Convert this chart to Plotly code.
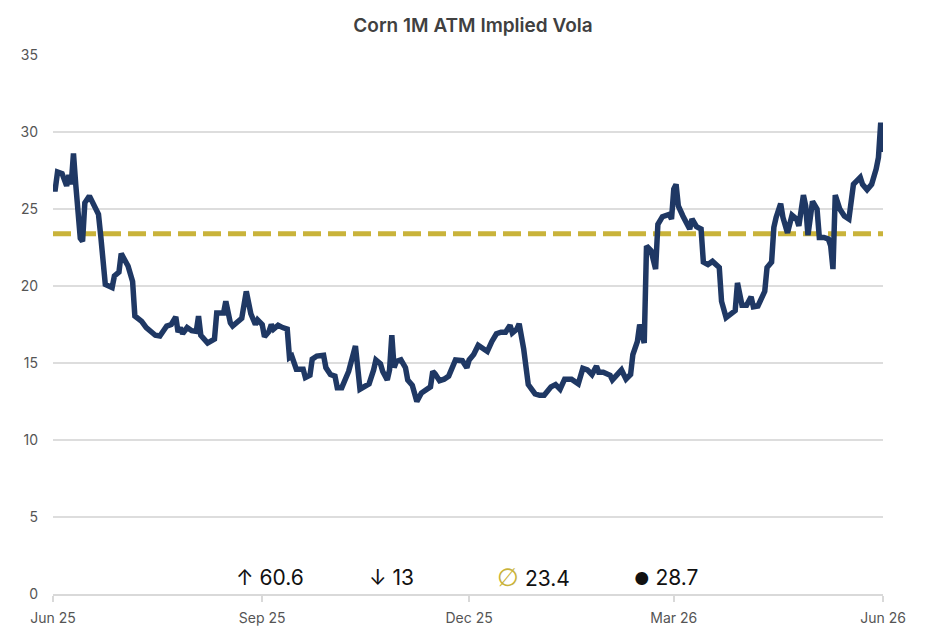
import plotly.graph_objects as go

# Corn front-month ATM implied volatility (%), daily observations
dates = [
    "2025-06-01", "2025-06-02", "2025-06-03", "2025-06-05", "2025-06-07", "2025-06-08",
    "2025-06-09", "2025-06-10", "2025-06-11", "2025-06-13", "2025-06-14", "2025-06-15",
    "2025-06-17", "2025-06-19", "2025-06-21", "2025-06-22", "2025-06-24", "2025-06-27",
    "2025-06-28", "2025-06-30", "2025-07-01", "2025-07-04", "2025-07-06", "2025-07-07",
    "2025-07-10", "2025-07-12", "2025-07-14", "2025-07-16", "2025-07-18", "2025-07-21",
    "2025-07-23", "2025-07-25", "2025-07-26", "2025-07-27", "2025-07-28", "2025-07-30",
    "2025-08-01", "2025-08-03", "2025-08-04", "2025-08-05", "2025-08-08", "2025-08-10",
    "2025-08-11", "2025-08-12", "2025-08-15", "2025-08-16", "2025-08-18", "2025-08-19",
    "2025-08-23", "2025-08-25", "2025-08-27", "2025-08-29", "2025-08-30", "2025-09-01",
    "2025-09-02", "2025-09-04", "2025-09-05", "2025-09-06", "2025-09-08", "2025-09-10",
    "2025-09-12", "2025-09-13", "2025-09-14", "2025-09-16", "2025-09-18", "2025-09-19",
    "2025-09-20", "2025-09-22", "2025-09-23", "2025-09-25", "2025-09-28", "2025-09-29",
    "2025-10-01", "2025-10-03", "2025-10-04", "2025-10-06", "2025-10-09", "2025-10-10",
    "2025-10-12", "2025-10-14", "2025-10-16", "2025-10-18", "2025-10-20", "2025-10-21",
    "2025-10-23", "2025-10-24", "2025-10-26", "2025-10-27", "2025-10-28", "2025-10-29",
    "2025-10-30", "2025-11-01", "2025-11-03", "2025-11-04", "2025-11-06", "2025-11-07",
    "2025-11-08", "2025-11-10", "2025-11-12", "2025-11-14", "2025-11-15", "2025-11-16",
    "2025-11-18", "2025-11-20", "2025-11-22", "2025-11-23", "2025-11-25", "2025-11-28",
    "2025-11-30", "2025-12-01", "2025-12-03", "2025-12-05", "2025-12-07", "2025-12-09",
    "2025-12-11", "2025-12-13", "2025-12-15", "2025-12-17", "2025-12-19", "2025-12-20",
    "2025-12-22", "2025-12-23", "2025-12-25", "2025-12-27", "2025-12-30", "2026-01-01",
    "2026-01-03", "2026-01-06", "2026-01-08", "2026-01-10", "2026-01-12", "2026-01-15",
    "2026-01-18", "2026-01-20", "2026-01-22", "2026-01-24", "2026-01-26", "2026-01-27",
    "2026-01-29", "2026-02-01", "2026-02-02", "2026-02-05", "2026-02-06", "2026-02-08",
    "2026-02-10", "2026-02-11", "2026-02-13", "2026-02-14", "2026-02-16", "2026-02-17",
    "2026-02-19", "2026-02-21", "2026-02-22", "2026-02-24", "2026-02-27", "2026-02-28",
    "2026-03-01", "2026-03-02", "2026-03-03", "2026-03-05", "2026-03-08", "2026-03-09",
    "2026-03-11", "2026-03-13", "2026-03-14", "2026-03-16", "2026-03-18", "2026-03-21",
    "2026-03-22", "2026-03-24", "2026-03-27", "2026-03-28", "2026-03-29", "2026-03-31",
    "2026-04-02", "2026-04-04", "2026-04-05", "2026-04-07", "2026-04-10", "2026-04-11",
    "2026-04-13", "2026-04-14", "2026-04-15", "2026-04-17", "2026-04-18", "2026-04-20",
    "2026-04-22", "2026-04-24", "2026-04-25", "2026-04-27", "2026-04-28", "2026-04-29",
    "2026-05-01", "2026-05-03", "2026-05-04", "2026-05-06", "2026-05-08", "2026-05-09",
    "2026-05-10", "2026-05-11", "2026-05-13", "2026-05-15", "2026-05-17", "2026-05-19",
    "2026-05-22", "2026-05-23", "2026-05-25", "2026-05-27", "2026-05-29", "2026-05-30",
    "2026-05-31", "2026-06-01",
]

implied_vol = [
    26.3, 26.3, 27.4, 27.3, 26.5, 27.2,
    26.6, 28.6, 26.6, 23.1, 22.9, 25.4,
    25.85, 25.2, 24.65, 23.25, 20.1, 19.9,
    20.65, 20.9, 22.1, 21.3, 20.3, 18.05,
    17.7, 17.3, 17.1, 16.8, 16.75, 17.4,
    17.5, 18.0, 17.0, 17.3, 16.9, 17.3,
    17.1, 17.05, 18.05, 16.8, 16.3, 16.5,
    16.55, 18.25, 18.25, 19.0, 17.6, 17.4,
    17.9, 19.65, 18.2, 17.5, 17.8, 17.5,
    16.7, 17.05, 17.5, 17.2, 17.45, 17.3,
    17.2, 15.35, 15.45, 14.6, 14.6, 14.6,
    14.05, 14.2, 15.25, 15.45, 15.5, 14.7,
    14.25, 14.15, 13.4, 13.4, 14.45, 15.1,
    16.1, 13.3, 13.5, 13.65, 14.55, 15.2,
    14.95, 14.45, 13.9, 14.55, 16.8, 14.7,
    15.1, 15.2, 14.7, 13.9, 13.55, 13.15,
    12.5, 13.05, 13.3, 13.45, 14.45, 14.3,
    13.85, 13.95, 14.15, 14.55, 15.2, 15.15,
    14.7, 15.2, 15.55, 16.15, 15.9, 15.75,
    16.4, 16.9, 17.0, 17.0, 17.45, 16.95,
    17.2, 17.55, 15.9, 13.6, 13.0, 12.9,
    12.9, 13.45, 13.6, 13.3, 13.95, 13.95,
    13.65, 14.65, 14.55, 14.25, 14.8, 14.4,
    14.4, 14.2, 13.9, 14.35, 14.55, 13.95,
    14.25, 15.55, 16.4, 17.5, 16.3, 22.6,
    22.3, 21.1, 24.0, 24.5, 24.65, 24.35,
    26.3, 26.6, 25.2, 24.55, 23.7, 24.35,
    23.85, 23.7, 21.55, 21.4, 21.6, 21.2,
    19.0, 17.95, 18.25, 18.4, 20.2, 18.75,
    18.75, 19.3, 18.65, 18.7, 19.65, 21.2,
    21.55, 23.8, 24.45, 25.35, 24.45, 23.45,
    24.6, 24.35, 23.9, 25.9, 25.2, 23.3,
    25.5, 25.0, 23.15, 23.15, 23.05, 22.6,
    21.1, 25.9, 25.0, 24.55, 24.35, 26.6,
    27.05, 26.6, 26.25, 26.6, 27.6, 28.35,
    30.6, 28.7,
]

# Summary statistics shown beneath the series
stat_high = "60.6"
stat_low = "13"
stat_mean = 23.4
stat_last = "28.7"

tick_dates = ["2025-06-01", "2025-09-01", "2025-12-01", "2026-03-01", "2026-06-01"]
tick_labels = ["Jun 25", "Sep 25", "Dec 25", "Mar 26", "Jun 26"]
y_ticks = [0, 5, 10, 15, 20, 25, 30, 35]

NAVY = "#1f3864"
GOLD = "#c9b33a"
FONT = "Inter, Roboto, sans-serif"

fig = go.Figure()

# Average level as a dashed horizontal line
fig.add_trace(go.Scatter(
    x=[dates[0], dates[-1]],
    y=[stat_mean, stat_mean],
    mode="lines",
    line=dict(color=GOLD, width=5, dash="18px,7px"),
    hoverinfo="skip",
    showlegend=False,
))

fig.add_trace(go.Scatter(
    x=dates,
    y=implied_vol,
    mode="lines",
    line=dict(color=NAVY, width=5.5),
    showlegend=False,
))

stats = [
    (0.2614, "\u2191 " + stat_high),
    (0.4084, "\u2193 " + stat_low),
    (0.5795, f"<span style='color:{GOLD};font-family:DejaVu Sans;font-weight:300;font-size:25px'>\u2205</span> {stat_mean:.1f}"),
    (0.7386, "<span style='font-size:17px'>\u25CF</span> " + stat_last),
]
for xpos, txt in stats:
    fig.add_annotation(
        x=xpos, y=0.0315, xref="paper", yref="paper",
        text=txt, showarrow=False,
        xanchor="center", yanchor="middle",
        font=dict(family=FONT, size=21, color="#111111"),
    )

fig.update_layout(
    width=930, height=629,
    margin=dict(l=53, r=47, t=55, b=35, autoexpand=False),
    paper_bgcolor="white",
    plot_bgcolor="white",
    title=dict(
        text="Corn 1M ATM Implied Vola",
        x=0.5086, xanchor="center",
        y=1 - 25 / 629, yanchor="middle",
        font=dict(family=FONT, size=19, color="#404040", weight=600),
    ),
    xaxis=dict(
        type="date",
        range=["2025-06-01", "2026-06-01"],
        tickvals=tick_dates,
        ticktext=tick_labels,
        showgrid=False,
        showline=True, linecolor="#d9d9d9", linewidth=2,
        ticks="outside", ticklen=6, tickwidth=2, tickcolor="#d9d9d9",
        ticklabelstandoff=4,
        tickfont=dict(family=FONT, size=14, color="#555555"),
        zeroline=False,
        automargin=False,
    ),
    yaxis=dict(
        range=[0, 35],
        tickvals=y_ticks,
        showgrid=True, gridcolor="#dddddd", gridwidth=2,
        zeroline=False,
        showline=False,
        ticks="",
        ticklabelstandoff=14,
        tickfont=dict(family=FONT, size=14, color="#555555"),
        automargin=False,
    ),
)

fig.write_html("out.html")
